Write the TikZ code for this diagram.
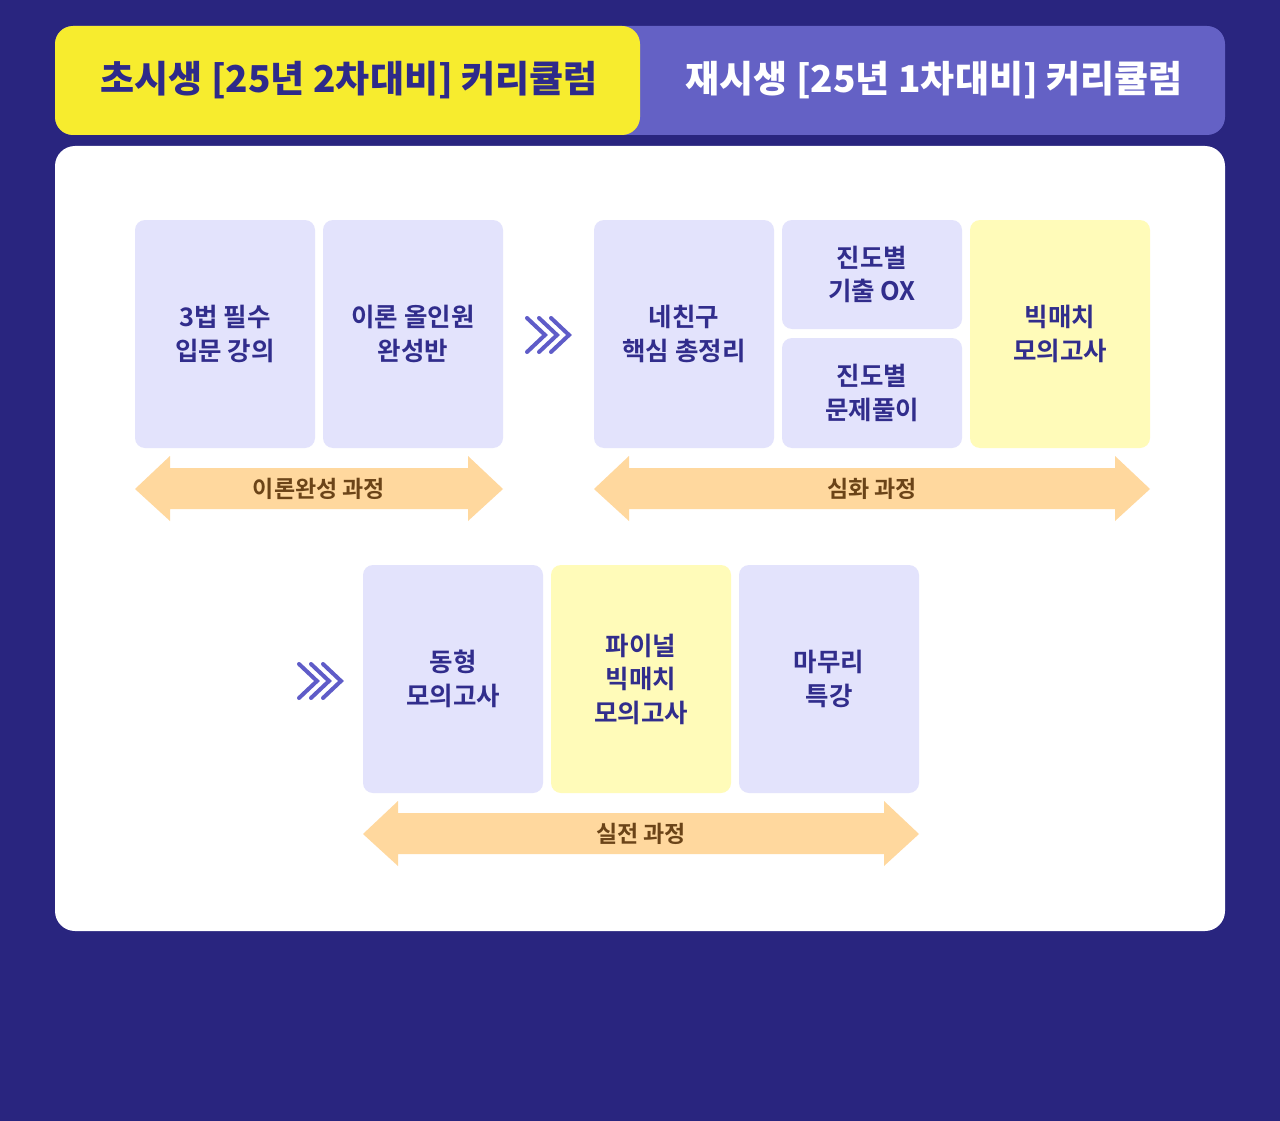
\documentclass[tikz,border=0pt]{standalone}
\usepackage{fontspec}
\newfontfamily\kr{Noto Sans CJK KR}[BoldFont={Noto Sans CJK KR Bold}]
\newfontfamily\krblack{Noto Sans CJK KR Black}
\definecolor{bgnavy}{HTML}{29257F}
\definecolor{tabyellow}{HTML}{F7EC2E}
\definecolor{tabpurple}{HTML}{6461C5}
\definecolor{tabtext}{HTML}{2E2A8A}
\definecolor{boxlav}{HTML}{E3E3FC}
\definecolor{boxyel}{HTML}{FFFBB9}
\definecolor{boxtext}{HTML}{312D8C}
\definecolor{band}{HTML}{FFD89E}
\definecolor{bandtext}{HTML}{6B4418}
\definecolor{chev}{HTML}{5F5CC8}
\begin{document}
\begin{tikzpicture}[x=1pt,y=-1pt,
  card/.style={fill=boxlav, rounded corners=10pt, minimum width=180pt, align=center,
     font=\kr\bfseries\fontsize{25.5}{33.5}\selectfont, text=boxtext, inner sep=0pt},
  cardy/.style={card, fill=boxyel},
  bandlabel/.style={font=\kr\bfseries\fontsize{23}{26}\selectfont, text=bandtext, inner sep=0pt},
  tablabel/.style={font=\krblack\fontsize{37}{40}\selectfont},
  chevline/.style={draw=chev, line width=4pt, line cap=round, line join=miter}
]
\useasboundingbox (0,0) rectangle (1280,1121);
\fill[bgnavy] (0,0) rectangle (1280,1121);
% tabs
\fill[tabpurple, rounded corners=18pt] (55,26) rectangle (1225,135);
\fill[tabyellow, rounded corners=18pt] (55,26) rectangle (640,135);
\node[tablabel, text=tabtext] (tab1) at (349,80) {초시생 [25년 2차대비] 커리큘럼};
\node[tablabel, text=white] (tab2) at (934,80) {재시생 [25년 1차대비] 커리큘럼};
% panel
\fill[white, rounded corners=20pt] (55,146) rectangle (1225,931);
% row 1
\node[card, minimum height=228pt] (b1) at (225,334) {3법 필수\\입문 강의};
\node[card, minimum height=228pt] (b2) at (413,334) {이론 올인원\\완성반};
\node[card, minimum height=228pt] (b3) at (684,334) {네친구\\핵심 총정리};
\node[card, minimum height=109pt] (b4) at (872,274.5) {진도별\\기출 OX};
\node[card, minimum height=110pt] (b5) at (872,393) {진도별\\문제풀이};
\node[cardy, minimum height=228pt] (b6) at (1060,334) {빅매치\\모의고사};
% row 2
\node[card, minimum height=228pt] (c1) at (453,679) {동형\\모의고사};
\node[cardy, minimum height=228pt] (c2) at (641,679) {파이널\\빅매치\\모의고사};
\node[card, minimum height=228pt] (c3) at (829,679) {마무리\\특강};
% bands
\fill[band] (135,489) -- (170,456) -- (170,468) -- (468,468) -- (468,456) -- (503,489)
  -- (468,521) -- (468,509) -- (170,509) -- (170,521) -- cycle;
\node[bandlabel] (l1) at (319,489) {이론완성 과정};
\fill[band] (594,489) -- (629,456) -- (629,468) -- (1115,468) -- (1115,456) -- (1150,489)
  -- (1115,521) -- (1115,509) -- (629,509) -- (629,521) -- cycle;
\node[bandlabel] (l2) at (872,489) {심화 과정};
\fill[band] (363,834) -- (398,801) -- (398,813) -- (884,813) -- (884,801) -- (919,834)
  -- (884,866) -- (884,854) -- (398,854) -- (398,866) -- cycle;
\node[bandlabel] (l3) at (641,834) {실전 과정};
% chevrons
\foreach \dx in {0,12,24} {
  \draw[chevline] (527+\dx,318) -- (545+\dx,335) -- (527+\dx,352);
  \draw[chevline] (299+\dx,664) -- (317+\dx,681) -- (299+\dx,698);
}
\end{tikzpicture}
\end{document}
